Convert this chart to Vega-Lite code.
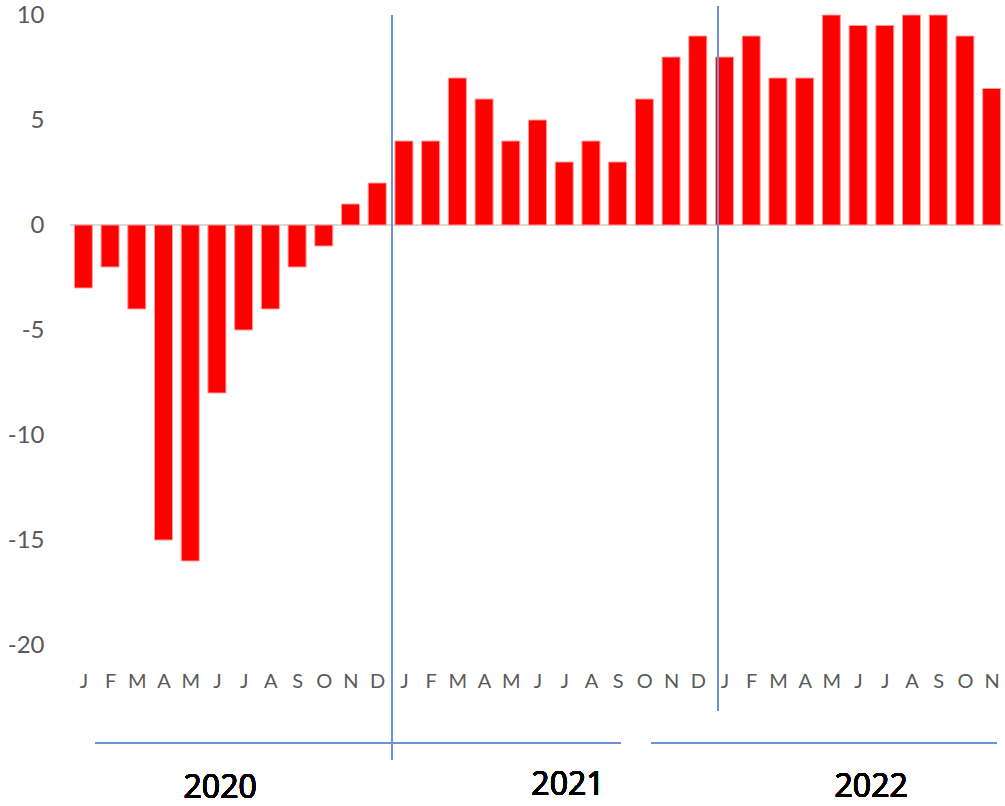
{
  "$schema": "https://vega.github.io/schema/vega-lite/v6.json",
  "width": 935,
  "height": 630,
  "autosize": {"type": "none"},
  "padding": {"left": 70, "top": 15, "right": 0, "bottom": 161},
  "background": "#ffffff",
  "config": {"view": {"stroke": null}, "font": "Lato"},
  "data": {
    "values": [
      {"year": 2020, "month": "Jan", "idx": 0, "value": -3},
      {"year": 2020, "month": "Feb", "idx": 1, "value": -2},
      {"year": 2020, "month": "Mar", "idx": 2, "value": -4},
      {"year": 2020, "month": "Apr", "idx": 3, "value": -15},
      {"year": 2020, "month": "May", "idx": 4, "value": -16},
      {"year": 2020, "month": "Jun", "idx": 5, "value": -8},
      {"year": 2020, "month": "Jul", "idx": 6, "value": -5},
      {"year": 2020, "month": "Aug", "idx": 7, "value": -4},
      {"year": 2020, "month": "Sep", "idx": 8, "value": -2},
      {"year": 2020, "month": "Oct", "idx": 9, "value": -1},
      {"year": 2020, "month": "Nov", "idx": 10, "value": 1},
      {"year": 2020, "month": "Dec", "idx": 11, "value": 2},
      {"year": 2021, "month": "Jan", "idx": 12, "value": 4},
      {"year": 2021, "month": "Feb", "idx": 13, "value": 4},
      {"year": 2021, "month": "Mar", "idx": 14, "value": 7},
      {"year": 2021, "month": "Apr", "idx": 15, "value": 6},
      {"year": 2021, "month": "May", "idx": 16, "value": 4},
      {"year": 2021, "month": "Jun", "idx": 17, "value": 5},
      {"year": 2021, "month": "Jul", "idx": 18, "value": 3},
      {"year": 2021, "month": "Aug", "idx": 19, "value": 4},
      {"year": 2021, "month": "Sep", "idx": 20, "value": 3},
      {"year": 2021, "month": "Oct", "idx": 21, "value": 6},
      {"year": 2021, "month": "Nov", "idx": 22, "value": 8},
      {"year": 2021, "month": "Dec", "idx": 23, "value": 9},
      {"year": 2022, "month": "Jan", "idx": 24, "value": 8},
      {"year": 2022, "month": "Feb", "idx": 25, "value": 9},
      {"year": 2022, "month": "Mar", "idx": 26, "value": 7},
      {"year": 2022, "month": "Apr", "idx": 27, "value": 7},
      {"year": 2022, "month": "May", "idx": 28, "value": 10},
      {"year": 2022, "month": "Jun", "idx": 29, "value": 9.5},
      {"year": 2022, "month": "Jul", "idx": 30, "value": 9.5},
      {"year": 2022, "month": "Aug", "idx": 31, "value": 10},
      {"year": 2022, "month": "Sep", "idx": 32, "value": 10},
      {"year": 2022, "month": "Oct", "idx": 33, "value": 9},
      {"year": 2022, "month": "Nov", "idx": 34, "value": 6.5}
    ]
  },
  "encoding": {
    "x": {
      "field": "idx",
      "type": "quantitative",
      "scale": {"domain": [-0.5, 34.5], "nice": false, "zero": false, "padding": 0},
      "axis": {
        "title": null,
        "grid": false,
        "ticks": false,
        "domain": false,
        "values": [0,1,2,3,4,5,6,7,8,9,10,11,12,13,14,15,16,17,18,19,20,21,22,23,24,25,26,27,28,29,30,31,32,33,34],
        "labelExpr": "['J','F','M','A','M','J','J','A','S','O','N','D'][datum.value % 12]",
        "labelFontSize": 20,
        "labelColor": "#595959",
        "labelBaseline": "alphabetic",
        "labelPadding": 42,
        "labelOverlap": false,
        "labelFlush": false
      }
    },
    "y": {
      "field": "value",
      "type": "quantitative",
      "scale": {"domain": [-20, 10], "nice": false, "zero": false, "padding": 0},
      "axis": {
        "title": null,
        "grid": false,
        "ticks": false,
        "domain": false,
        "values": [-20, -15, -10, -5, 0, 5, 10],
        "labelExpr": "toString(datum.value)",
        "labelFontSize": 24,
        "labelColor": "#595959",
        "labelPadding": 26,
        "labelFlush": false
      }
    }
  },
  "layer": [
    {
      "mark": {"type": "rule", "color": "#d9d9d9", "strokeWidth": 1.5},
      "encoding": {"y": {"datum": 0}, "x": {"datum": -0.5}, "x2": {"datum": 34.4}}
    },
    {
      "mark": {"type": "bar", "size": 18, "color": "#ff0000", "stroke": "#ff9c9c", "strokeWidth": 1}
    },
    {
      "mark": {"type": "rule", "color": "#6a93d6", "strokeWidth": 1.5},
      "encoding": {"x": {"datum": 11.55}, "y": {"datum": 10.0}, "y2": {"datum": -25.48}}
    },
    {
      "mark": {"type": "rule", "color": "#6a93d6", "strokeWidth": 1.5},
      "encoding": {"x": {"datum": 23.76}, "y": {"datum": 10.43}, "y2": {"datum": -23.14}}
    },
    {
      "mark": {"type": "rule", "color": "#6a93d6", "strokeWidth": 1.5},
      "encoding": {"x": {"datum": 0.46}, "x2": {"datum": 20.12}, "y": {"datum": -24.65}}
    },
    {
      "mark": {"type": "rule", "color": "#6a93d6", "strokeWidth": 1.5},
      "encoding": {"x": {"datum": 21.25}, "x2": {"datum": 34.17}, "y": {"datum": -24.65}}
    },
    {
      "mark": {"type": "text", "fontSize": 32, "fontWeight": 400, "font": "Open Sans", "color": "#000000", "baseline": "alphabetic", "align": "center"},
      "encoding": {"x": {"datum": 5.12}, "y": {"datum": -27.29}, "text": {"value": "2020"}}
    },
    {
      "mark": {"type": "text", "fontSize": 32, "fontWeight": 400, "font": "Open Sans", "color": "#000000", "baseline": "alphabetic", "align": "center"},
      "encoding": {"x": {"datum": 18.14}, "y": {"datum": -27.14}, "text": {"value": "2021"}}
    },
    {
      "mark": {"type": "text", "fontSize": 32, "fontWeight": 400, "font": "Open Sans", "color": "#000000", "baseline": "alphabetic", "align": "center"},
      "encoding": {"x": {"datum": 29.49}, "y": {"datum": -27.22}, "text": {"value": "2022"}}
    }
  ]
}
